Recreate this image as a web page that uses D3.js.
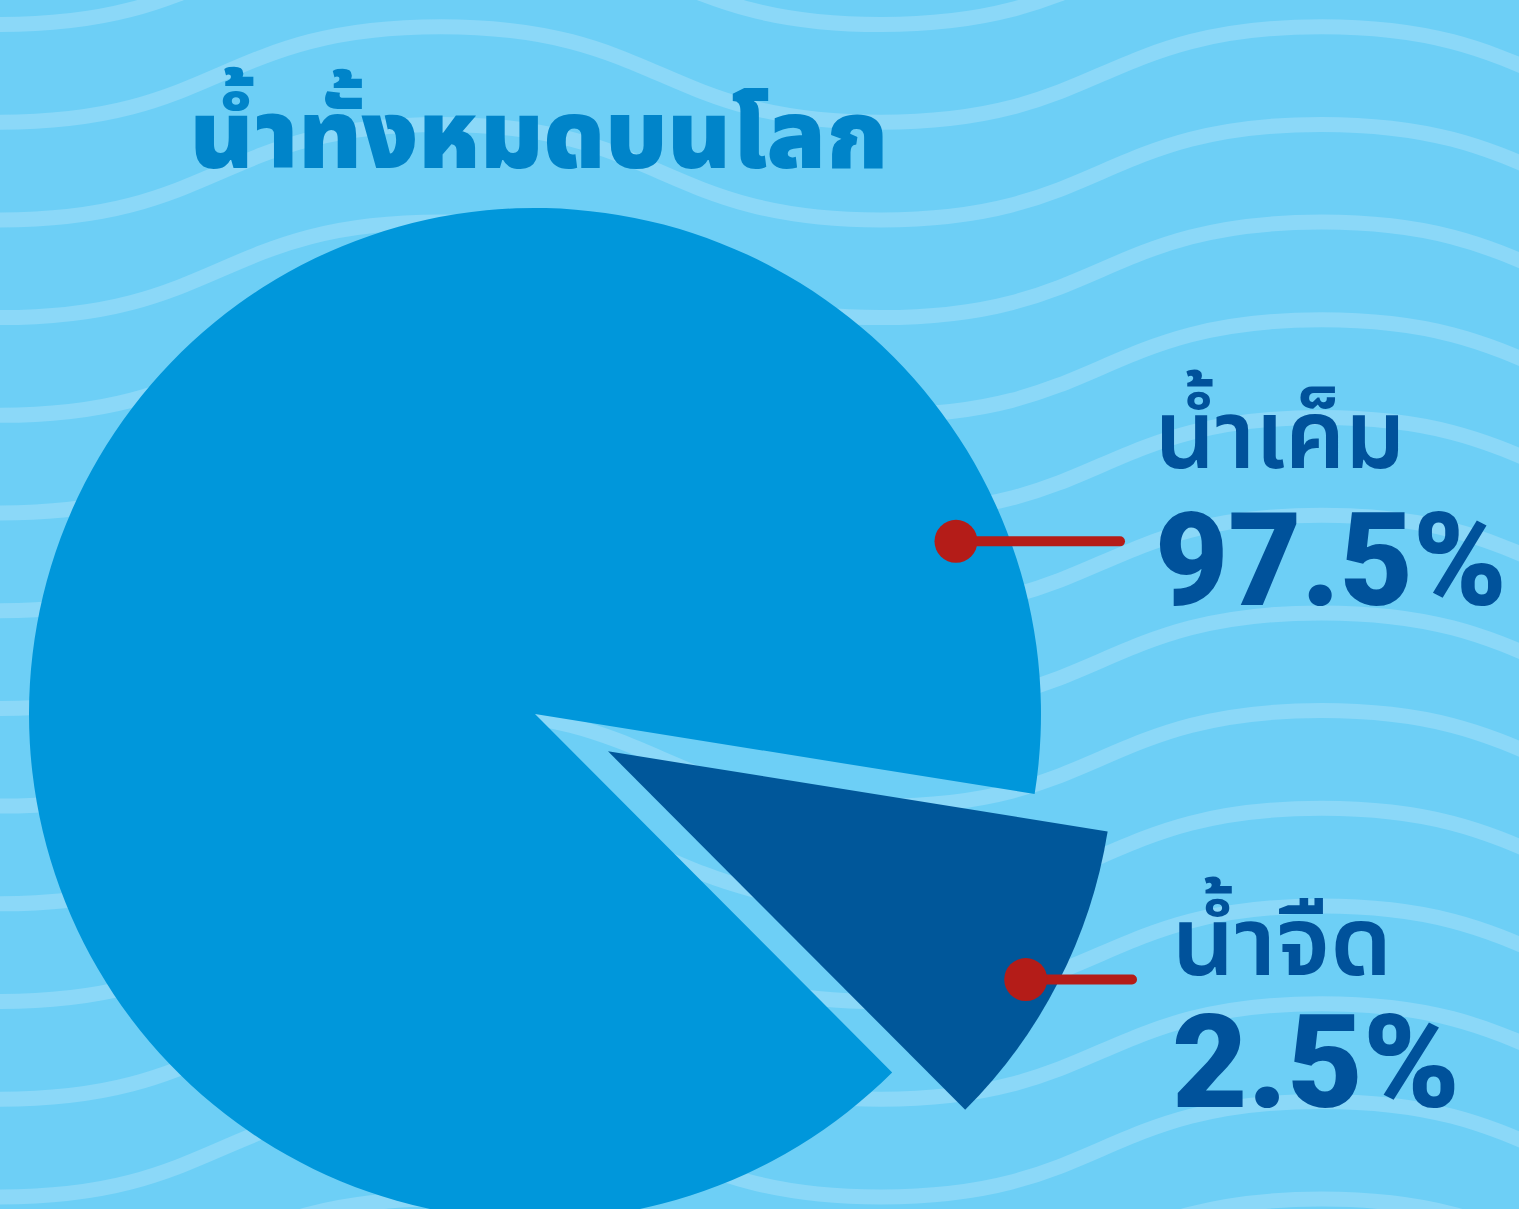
<!DOCTYPE html>
<html lang="th">
<head>
<meta charset="utf-8">
<script src="https://cdn.jsdelivr.net/npm/d3@7"></script>
<style>
  html, body { margin: 0; padding: 0; background: #6dcff6; overflow: hidden; }
  svg { display: block; }
</style>
</head>
<body>
<div id="chart"></div>
<script>
const titleText = "น้ำทั้งหมดบนโลก";
const categories = ["น้ำเค็ม", "น้ำจืด"];
const percentValues = [97.5, 2.5];
const percentLabels = ["97.5%", "2.5%"];
// share of the circle each slice takes in the artwork (drawn ~90/10, not to scale)
const drawnShares = [90, 10];

const data = categories.map((name, i) => ({
    name: name,
    value: percentValues[i],
    label: percentLabels[i],
    share: drawnShares[i]
}));

const width = 1519;
const height = 1209;
const cx = 535, cy = 714;
const radius = 506;
const explode = 82;
const deg = Math.PI / 180;

const svg = d3.select("#chart")
    .append("svg")
    .attr("width", width)
    .attr("height", height);

svg.append("rect")
    .attr("width", width)
    .attr("height", height)
    .attr("fill", "#6dcff6");

// background waves: flat crests and troughs joined by S-bends
const halfPeriod = 440.5, waveDrop = 95.5, waveGap = 97.7, waveFirst = 24.5;
const waveLine = d3.line().curve(d3.curveBumpX);
const waveSteps = d3.range(-1, 6);
const waveRows = d3.range(0, 14);

svg.append("g")
    .selectAll("path")
    .data(waveRows)
    .join("path")
    .attr("d", k => {
        const trough = waveFirst + waveGap * k;
        return waveLine(waveSteps.map(j => [j * halfPeriod, Math.abs(j) % 2 === 0 ? trough : trough - waveDrop]));
    })
    .attr("fill", "none")
    .attr("stroke", "#8bd8f8")
    .attr("stroke-width", 15);

// title
svg.append("text")
    .attr("x", 190)
    .attr("y", 168)
    .attr("textLength", 698)
    .attr("lengthAdjust", "spacingAndGlyphs")
    .attr("fill", "#0084c9")
    .style("font-family", "'Noto Sans Thai', Garuda, Loma, sans-serif")
    .style("font-size", "96px")
    .style("font-weight", 900)
    .text(titleText);

// pie
const pie = d3.pie()
    .sort(null)
    .value(d => d.share)
    .startAngle(135.1 * deg)
    .endAngle(135.1 * deg + 2 * Math.PI);

const arcs = pie(data);
const arc = d3.arc().innerRadius(0).outerRadius(radius);
const sliceColors = ["#0097db", "#00579a"];

const offsetOf = (d, i) => i === 0 ? [0, 0] : d3.pointRadial((d.startAngle + d.endAngle) / 2, explode);

const slices = svg.append("g")
    .attr("transform", `translate(${cx},${cy})`);

slices.selectAll("path")
    .data(arcs)
    .join("path")
    .attr("transform", (d, i) => `translate(${offsetOf(d, i)})`)
    .attr("d", arc)
    .attr("fill", (d, i) => sliceColors[i]);

// callouts
const calloutAngle = [d => d.endAngle - 0.548, d => (d.startAngle + d.endAngle) / 2 + 0.027];
const calloutRadius = [455, 476];
const lineEnd = [1120, 1132];
const textX = [1155, 1172];
const nameY = [468, 975];
const numberY = [605, 1107];
const nameWidth = [250, 220];
const numberWidth = [352, 288];

arcs.forEach((d, i) => {
    const off = offsetOf(d, i);
    const p = d3.pointRadial(calloutAngle[i](d), calloutRadius[i]);
    const px = cx + off[0] + p[0];
    const py = cy + off[1] + p[1];

    svg.append("line")
        .attr("x1", px)
        .attr("y1", py)
        .attr("x2", lineEnd[i])
        .attr("y2", py)
        .attr("stroke", "#b41c18")
        .attr("stroke-width", 10)
        .attr("stroke-linecap", "round");

    svg.append("circle")
        .attr("cx", px)
        .attr("cy", py)
        .attr("r", 21.5)
        .attr("fill", "#b41c18");

    svg.append("text")
        .attr("x", textX[i])
        .attr("y", nameY[i])
        .attr("textLength", nameWidth[i])
        .attr("lengthAdjust", "spacingAndGlyphs")
        .attr("fill", "#00529b")
        .style("font-family", "'Noto Sans Thai', Garuda, Loma, sans-serif")
        .style("font-size", "96px")
        .style("font-weight", 600)
        .text(d.data.name);

    svg.append("text")
        .attr("x", textX[i])
        .attr("y", numberY[i])
        .attr("textLength", numberWidth[i])
        .attr("lengthAdjust", "spacingAndGlyphs")
        .attr("fill", "#00529b")
        .style("font-family", "Roboto, 'Noto Sans', sans-serif")
        .style("font-size", "130px")
        .style("font-weight", 900)
        .text(d.data.label);
});
</script>
</body>
</html>
